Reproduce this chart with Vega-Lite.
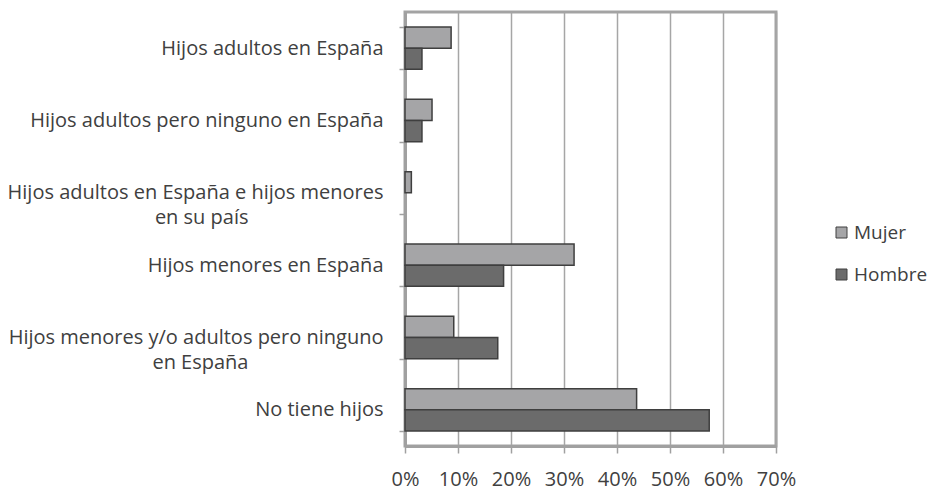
{
  "$schema": "https://vega.github.io/schema/vega-lite/v6.json",
  "width": 371,
  "height": 434,
  "autosize": {"type": "none"},
  "padding": {"left": 405, "top": 12, "right": 152, "bottom": 46},
  "background": "white",
  "config": {
    "font": "Open Sans",
    "view": {"stroke": "#a3a3a3", "strokeWidth": 3}
  },
  "data": {
    "values": [
      {"cat": "Hijos adultos en España", "sexo": "Mujer", "pct": 8.7},
      {"cat": "Hijos adultos en España", "sexo": "Hombre", "pct": 3.2},
      {"cat": "Hijos adultos pero ninguno en España", "sexo": "Mujer", "pct": 5.1},
      {"cat": "Hijos adultos pero ninguno en España", "sexo": "Hombre", "pct": 3.2},
      {"cat": "Hijos adultos en España e hijos menores|en su país", "sexo": "Mujer", "pct": 1.2},
      {"cat": "Hijos adultos en España e hijos menores|en su país", "sexo": "Hombre", "pct": 0},
      {"cat": "Hijos menores en España", "sexo": "Mujer", "pct": 31.9},
      {"cat": "Hijos menores en España", "sexo": "Hombre", "pct": 18.6},
      {"cat": "Hijos menores y/o adultos pero ninguno|en España", "sexo": "Mujer", "pct": 9.2},
      {"cat": "Hijos menores y/o adultos pero ninguno|en España", "sexo": "Hombre", "pct": 17.5},
      {"cat": "No tiene hijos", "sexo": "Mujer", "pct": 43.7},
      {"cat": "No tiene hijos", "sexo": "Hombre", "pct": 57.4}
    ]
  },
  "mark": {"type": "bar", "strokeWidth": 1.5},
  "encoding": {
    "y": {
      "field": "cat",
      "type": "nominal",
      "sort": null,
      "scale": {"paddingInner": 0.415, "paddingOuter": 0.2075},
      "axis": {
        "title": null,
        "tickBand": "extent",
        "labelExpr": "!isValid(datum.value) ? '' : indexof(datum.value,'|') >= 0 ? [split(datum.value,'|')[0], split(datum.value,'|')[1] + '\u2800\u2800\u2800\u2800\u2800\u2800\u2800\u2800\u2800'] : datum.value",
        "labelAlign": "right",
        "labelFontSize": 20,
        "labelColor": "#404040",
        "labelPadding": 16,
        "labelLineHeight": 25,
        "labelLimit": 500,
        "tickSize": 6,
        "tickColor": "#a0a0a0",
        "tickWidth": 1.5,
        "domainColor": "#a0a0a0",
        "domainWidth": 3,
        "grid": false
      }
    },
    "yOffset": {"field": "sexo", "type": "nominal", "sort": ["Mujer", "Hombre"]},
    "x": {
      "field": "pct",
      "type": "quantitative",
      "scale": {"domain": [0, 70]},
      "axis": {
        "title": null,
        "values": [0, 10, 20, 30, 40, 50, 60, 70],
        "labelExpr": "datum.value + '%'",
        "labelOverlap": false,
        "labelFlush": false,
        "labelFontSize": 20,
        "labelColor": "#404040",
        "labelPadding": 16,
        "tickSize": 7,
        "tickColor": "#a0a0a0",
        "tickWidth": 1.5,
        "domainColor": "#a0a0a0",
        "domainWidth": 3,
        "gridColor": "#a6a6a6",
        "gridWidth": 1.5
      }
    },
    "stroke": {
      "condition": {"test": "datum.pct == 0", "value": null},
      "value": "#3f3f3f"
    },
    "color": {
      "field": "sexo",
      "type": "nominal",
      "scale": {"domain": ["Mujer", "Hombre"], "range": ["#a5a5a7", "#6b6b6b"]},
      "legend": {
        "title": null,
        "orient": "none",
        "legendX": 427,
        "legendY": 211,
        "padding": 0,
        "symbolType": "square",
        "symbolSize": 121,
        "symbolStrokeColor": "#404040",
        "symbolStrokeWidth": 1,
        "labelFontSize": 19,
        "labelColor": "#404040",
        "labelOffset": 3,
        "rowPadding": 22
      }
    }
  }
}
